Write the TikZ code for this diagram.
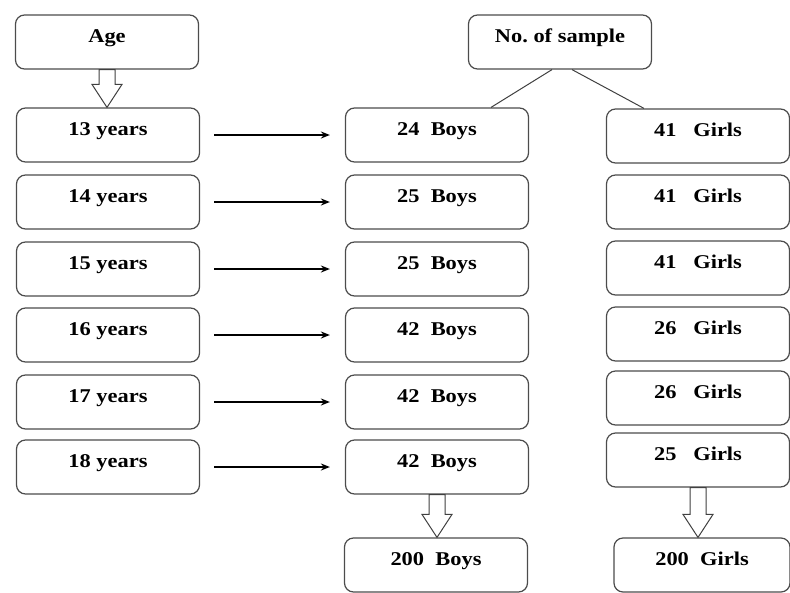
\documentclass[tikz,border=0pt]{standalone}
\usepackage{fontspec}
\setmainfont[FakeStretch=1.15]{Liberation Serif}
\usetikzlibrary{arrows.meta,calc}

% hollow block arrow from the south of #1 down to the north of #2
\newcommand\hollowarrow[2]{%
    \draw[hollow] let \p1=(#1.south), \p2=(#2.north) in
        (\x1-8pt,\y1) -- (\x1-8pt,\y2+23pt) -- (\x1-15pt,\y2+23pt) -- (\x1,\y2)
        -- (\x1+15pt,\y2+23pt) -- (\x1+8pt,\y2+23pt) -- (\x1+8pt,\y1) -- cycle;}

\begin{document}
\begin{tikzpicture}
    [   x = 1pt, y = -1pt
    ,   > = {Stealth[length=9pt,width=7pt]}
    ,   box/.style =
        {   draw = black!70
        ,   line width = 1.2pt
        ,   rounded corners = 9pt
        ,   minimum width = 183pt
        ,   minimum height = 54pt
        ,   text height = 13pt
        ,   text depth = 12pt
        ,   font = \fontsize{19.5}{22}\selectfont\bfseries
        }
    ,   hollow/.style =
        {   draw = black!75
        ,   line width = 1pt
        ,   fill = white
        ,   line join = miter
        }
    ,   link/.style =
        {   ->
        ,   line width = 1.8pt
        ,   shorten < = 14pt
        ,   shorten > = 15pt
        }
    ]
    \useasboundingbox (0,0) rectangle (790,592);

    \node[box] (age)    at (107,42) {Age};
    \node[box] (sample) at (560,42) {No.\ of sample};

    \foreach\n/\yy/\b/\g/\gy in
        {13/135/24/41/136, 14/202/25/41/202, 15/269/25/41/268,
         16/335/42/26/334, 17/402/42/26/398, 18/467/42/25/460}
    {   \node[box] (y\n) at (108,\yy) {\n\ years};
        \node[box] (b\n) at (437,\yy) {\b\ \ Boys};
        \node[box] (g\n) at (698,\gy) {\g\ \ \ Girls};
        \draw[link] (y\n) to (b\n);
    }

    \node[box] (boys)  at (436,565) {200\ \ Boys};
    \node[box, minimum width = 176pt] (girls) at (702,565) {200\ \ Girls};

    \draw[black!75, line width = 1pt] ($(sample.south)+(-8,0)$) -- ($(b13.north)+(54,0)$);
    \draw[black!75, line width = 1pt] ($(sample.south)+(12,0)$) -- ($(g13.north)+(-54,0)$);

    \hollowarrow{age}{y13}
    \hollowarrow{b18}{boys}
    \hollowarrow{g18}{girls}
\end{tikzpicture}
\end{document}
